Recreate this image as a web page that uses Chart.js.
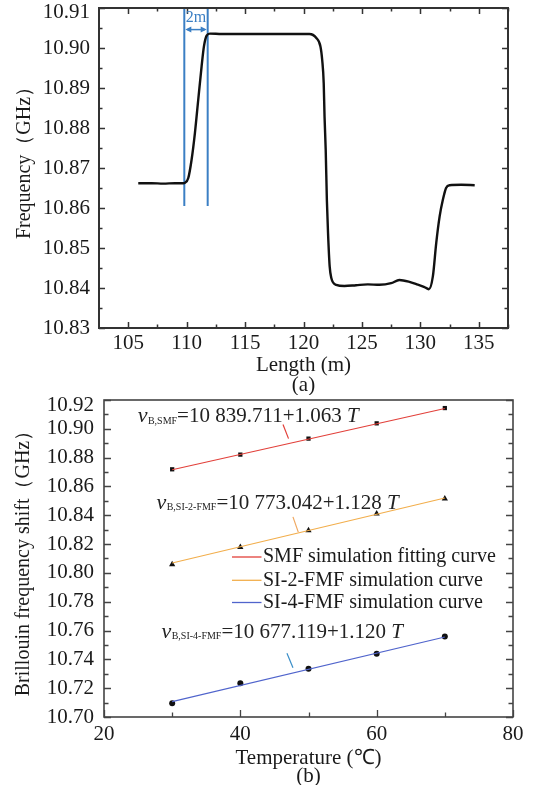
<!DOCTYPE html>
<html><head><meta charset="utf-8">
<script src="https://cdn.jsdelivr.net/npm/chart.js@4.4.1/dist/chart.umd.min.js"></script>
<style>
html,body{margin:0;padding:0;background:#fff;}
#wrap{position:relative;width:540px;height:785px;overflow:hidden;}
#ca{position:absolute;left:0;top:0;}
#cb{position:absolute;left:0;top:380px;}
</style></head><body>
<div id="wrap"><canvas id="ca" width="540" height="395"></canvas><canvas id="cb" width="540" height="405"></canvas></div>
<script>
// ---------- Chart (a) data ----------
const lengthM = [105.86, 107, 108, 109, 109.7, 109.86, 110.14, 110.42, 110.71, 110.99, 111.28, 111.48, 111.71, 111.99, 113, 115, 117, 119, 120.5, 121.1, 121.45, 121.6, 121.73, 121.8, 121.9, 122.0, 122.1, 122.24, 122.38, 122.8, 123.5, 124.5, 125.5, 126.5, 127.5, 128.2, 129.0, 129.7, 130.3, 130.73, 131.07, 131.36, 131.65, 131.93, 132.2, 132.5, 133.5, 134.65];
const freqGHz = [10.8662, 10.8662, 10.8661, 10.8662, 10.8662, 10.8663, 10.8675, 10.8720, 10.8788, 10.8870, 10.8954, 10.9004, 10.9031, 10.9036, 10.9035, 10.9035, 10.9035, 10.9035, 10.9035, 10.9025, 10.9004, 10.8970, 10.8912, 10.8829, 10.8746, 10.8620, 10.8537, 10.8454, 10.8425, 10.8408, 10.8405, 10.8407, 10.8409, 10.8408, 10.8412, 10.8420, 10.8416, 10.8409, 10.8403, 10.8397, 10.8429, 10.8513, 10.8579, 10.8621, 10.8650, 10.8657, 10.8658, 10.8657];
const markerLengths = [109.8, 111.8];
const markerFreqRange = [10.8605, 10.91];
const arrowFreq = [10.9046];
const arrowLabel = ['2m'];
const xTicksA = [105, 110, 115, 120, 125, 130, 135];
const yTicksA = [10.83, 10.84, 10.85, 10.86, 10.87, 10.88, 10.89, 10.90, 10.91];

// ---------- Chart (b) data ----------
const temps = [30, 40, 50, 60, 70];
const smfPts = [10.8719, 10.8821, 10.8932, 10.9038, 10.9144];
const si2Pts = [10.8059, 10.8179, 10.8295, 10.8411, 10.8515];
const si4Pts = [10.7096, 10.7235, 10.7335, 10.7439, 10.7559];
const fitT = [30, 70];
const smfFit = [10.8716, 10.9141];
const si2Fit = [10.8069, 10.8520];
const si4Fit = [10.7107, 10.7555];
const seriesNames = ['SMF simulation fitting curve', 'SI-2-FMF simulation curve', 'SI-4-FMF simulation curve'];
const eqSubs = ['B,SMF', 'B,SI-2-FMF', 'B,SI-4-FMF'];
const eqMains = ['=10 839.711+1.063 ', '=10 773.042+1.128 ', '=10 677.119+1.120 '];
const xTicksB = [20, 40, 60, 80];
const yTicksB = [10.70, 10.72, 10.74, 10.76, 10.78, 10.80, 10.82, 10.84, 10.86, 10.88, 10.90, 10.92];

const SERIF = "'Liberation Serif', 'Times New Roman', serif";
Chart.defaults.font.family = SERIF;
Chart.defaults.color = '#1a1a1a';
const F = (size, lh) => ({ family: SERIF, size: size, lineHeight: lh });

function range(a, b, step) { const r = []; for (let v = a; v <= b + step / 1000; v += step) r.push(+v.toFixed(6)); return r; }

// frame + inward ticks plugin
const frameTicks = {
  id: 'frameTicks',
  afterDatasetsDraw(chart, args, o) {
    const { ctx, chartArea: { left, right, top, bottom }, scales: { x, y } } = chart;
    ctx.save();
    ctx.strokeStyle = o.color;
    ctx.beginPath();
    const drawX = (vals, len) => vals.forEach(v => {
      const px = Math.round(x.getPixelForValue(v)) + 0.5;
      if (o.sides.includes('b')) { ctx.moveTo(px, bottom); ctx.lineTo(px, bottom - len); }
      if (o.sides.includes('t')) { ctx.moveTo(px, top); ctx.lineTo(px, top + len); }
    });
    const drawY = (vals, len) => vals.forEach(v => {
      const py = Math.round(y.getPixelForValue(v)) + 0.5;
      if (o.sides.includes('l')) { ctx.moveTo(left, py); ctx.lineTo(left + len, py); }
      if (o.sides.includes('r')) { ctx.moveTo(right, py); ctx.lineTo(right - len, py); }
    });
    ctx.lineWidth = o.tickWidth;
    drawX(o.xMajor, o.majorLen); drawX(o.xMinor, o.minorLen);
    drawY(o.yMajor, o.majorLen); drawY(o.yMinor, o.minorLen);
    ctx.stroke();
    ctx.lineWidth = o.width;
    ctx.strokeRect(left, top, right - left, bottom - top);
    ctx.restore();
  }
};

// ---------- Chart (a) ----------
const arrowPlugin = {
  id: 'arrowA',
  afterDatasetsDraw(chart) {
    const { ctx, scales: { x, y } } = chart;
    const x1 = x.getPixelForValue(markerLengths[0]) + 1, x2 = x.getPixelForValue(markerLengths[1]) - 1;
    const py = y.getPixelForValue(arrowFreq[0]);
    ctx.save();
    ctx.strokeStyle = '#3b7fc4'; ctx.fillStyle = '#3b7fc4'; ctx.lineWidth = 1.5;
    ctx.beginPath(); ctx.moveTo(x1 + 2, py); ctx.lineTo(x2 - 2, py); ctx.stroke();
    ctx.beginPath(); ctx.moveTo(x1, py); ctx.lineTo(x1 + 6, py - 3); ctx.lineTo(x1 + 6, py + 3); ctx.closePath(); ctx.fill();
    ctx.beginPath(); ctx.moveTo(x2, py); ctx.lineTo(x2 - 6, py - 3); ctx.lineTo(x2 - 6, py + 3); ctx.closePath(); ctx.fill();
    ctx.font = '16px ' + SERIF; ctx.textAlign = 'center'; ctx.textBaseline = 'middle';
    ctx.fillText(arrowLabel[0], (x1 + x2) / 2, py - 12);
    ctx.restore();
  }
};

// top tick label pushed slightly down (two-line label with empty first line)
const yLabel = (top) => (v) => (Math.abs(v - top) < 1e-9 ? ['', v.toFixed(2)] : v.toFixed(2));

new Chart(document.getElementById('ca'), {
  type: 'line',
  data: {
    datasets: [
      { data: lengthM.map((v, i) => ({ x: v, y: freqGHz[i] })), borderColor: '#111', borderWidth: 2.4, pointRadius: 0, cubicInterpolationMode: 'monotone' },
      { data: markerFreqRange.map(f => ({ x: markerLengths[0], y: f })), borderColor: '#3b7fc4', borderWidth: 2, pointRadius: 0 },
      { data: markerFreqRange.map(f => ({ x: markerLengths[1], y: f })), borderColor: '#3b7fc4', borderWidth: 2, pointRadius: 0 }
    ]
  },
  options: {
    responsive: false, animation: false, devicePixelRatio: 1,
    layout: { padding: { top: 8, right: 32, left: 0, bottom: 0 } },
    plugins: {
      legend: { display: false }, tooltip: { enabled: false },
      frameTicks: { color: '#333', width: 2, tickWidth: 1.5, majorLen: 6, minorLen: 3.5, sides: 'btlr',
        xMajor: xTicksA, xMinor: range(107.5, 137.5, 5), yMajor: yTicksA, yMinor: range(10.835, 10.905, 0.01) }
    },
    scales: {
      x: {
        type: 'linear', min: 102.5, max: 137.5,
        afterBuildTicks: s => { s.ticks = xTicksA.map(v => ({ value: v })); },
        afterFit: s => { s.height = 67; s.paddingLeft = 0; s.paddingRight = 0; },
        grid: { display: false, drawTicks: false }, border: { display: false },
        ticks: { font: F(21, 1), padding: 5, maxRotation: 0, callback: v => String(v) },
        title: { display: true, text: ['Length (m)', '(a)'], font: F(21, '20px'), padding: 0 }
      },
      y: {
        type: 'linear', min: 10.83, max: 10.91,
        afterBuildTicks: s => { s.ticks = yTicksA.map(v => ({ value: v })); },
        afterFit: s => { s.width = 99; s.paddingTop = 0; s.paddingBottom = 0; },
        grid: { display: false, drawTicks: false }, border: { display: false },
        ticks: { font: F(21, '9px'), padding: 9, callback: yLabel(10.91) },
        title: { display: true, text: '\u2003Frequency（GHz）', font: F(20, 1), padding: { top: 15, bottom: 0 } }
      }
    }
  },
  plugins: [frameTicks, arrowPlugin]
});

// ---------- Chart (b) ----------
const eqAnchors = [[24.94, 10.9047], [27.69, 10.8445], [28.42, 10.7550]];
const pointerSegs = [[[46.26, 10.9030], [47.07, 10.8932]], [[47.72, 10.8389], [48.5, 10.8283]], [[46.84, 10.7443], [47.72, 10.7342]]];
const pointerColors = ['#e2403a', '#f0a860', '#3a8ec8'];

const annotB = {
  id: 'annotB',
  afterDatasetsDraw(chart) {
    const { ctx, chartArea, scales: { x, y } } = chart;
    ctx.save();
    eqAnchors.forEach((a, i) => {
      let px = x.getPixelForValue(a[0]);
      const py = y.getPixelForValue(a[1]);
      ctx.fillStyle = '#222'; ctx.textAlign = 'left'; ctx.textBaseline = 'alphabetic';
      ctx.font = 'italic 22px ' + SERIF; ctx.fillText('v', px, py); px += ctx.measureText('v').width + 0.5;
      ctx.font = '10px ' + SERIF; ctx.fillText(eqSubs[i], px, py + 1.5); px += ctx.measureText(eqSubs[i]).width;
      ctx.font = '21px ' + SERIF; ctx.fillText(eqMains[i], px, py); px += ctx.measureText(eqMains[i]).width;
      ctx.font = 'italic 21px ' + SERIF; ctx.fillText('T', px, py);
    });
    pointerSegs.forEach((s, i) => {
      ctx.strokeStyle = pointerColors[i]; ctx.lineWidth = 1.2;
      ctx.beginPath();
      ctx.moveTo(x.getPixelForValue(s[0][0]), y.getPixelForValue(s[0][1]));
      ctx.lineTo(x.getPixelForValue(s[1][0]), y.getPixelForValue(s[1][1]));
      ctx.stroke();
    });
    const lx = chartArea.left + 128, rows = [157, 180.3, 202.5];
    chart.data.datasets.slice(0, 3).forEach((ds, i) => {
      const ly = chartArea.top + rows[i];
      ctx.strokeStyle = ds.borderColor; ctx.lineWidth = 1.3;
      ctx.beginPath(); ctx.moveTo(lx, ly); ctx.lineTo(lx + 29.5, ly); ctx.stroke();
      ctx.fillStyle = '#1a1a1a'; ctx.font = '20px ' + SERIF; ctx.textBaseline = 'middle'; ctx.textAlign = 'left';
      ctx.fillText(ds.label, lx + 31, ly);
    });
    ctx.restore();
  }
};

const pts = arr => temps.map((t, i) => ({ x: t, y: arr[i] }));
const fit = arr => fitT.map((t, i) => ({ x: t, y: arr[i] }));

new Chart(document.getElementById('cb'), {
  type: 'line',
  data: {
    datasets: [
      { label: seriesNames[0], data: fit(smfFit), borderColor: '#e2403a', borderWidth: 1.2, pointRadius: 0 },
      { label: seriesNames[1], data: fit(si2Fit), borderColor: '#f2ae4c', borderWidth: 1.2, pointRadius: 0 },
      { label: seriesNames[2], data: fit(si4Fit), borderColor: '#5064cc', borderWidth: 1.2, pointRadius: 0 },
      { type: 'scatter', data: pts(smfPts), pointStyle: 'rect', pointRadius: 3, backgroundColor: '#111', borderColor: '#111', borderWidth: 0 },
      { type: 'scatter', data: pts(si2Pts), pointStyle: 'triangle', pointRadius: 3.6, backgroundColor: '#111', borderColor: '#111', borderWidth: 0 },
      { type: 'scatter', data: pts(si4Pts), pointStyle: 'circle', pointRadius: 3, backgroundColor: '#111', borderColor: '#111', borderWidth: 0 }
    ]
  },
  options: {
    responsive: false, animation: false, devicePixelRatio: 1,
    layout: { padding: { top: 20, right: 27, left: 0, bottom: 0 } },
    plugins: {
      legend: { display: false }, tooltip: { enabled: false },
      frameTicks: { color: '#444', width: 1.6, tickWidth: 1.3, majorLen: 7, minorLen: 4.5, sides: 'blr',
        xMajor: range(20, 80, 20), xMinor: range(30, 70, 20), yMajor: yTicksB, yMinor: range(10.71, 10.91, 0.02) }
    },
    scales: {
      x: {
        type: 'linear', min: 20, max: 80,
        afterBuildTicks: s => { s.ticks = xTicksB.map(v => ({ value: v })); },
        afterFit: s => { s.height = 68; s.paddingLeft = 0; s.paddingRight = 0; },
        grid: { display: false, drawTicks: false }, border: { display: false },
        ticks: { font: F(21, 1), padding: 7, maxRotation: 0, callback: v => String(v) },
        title: { display: true, text: ['Temperature (℃)', '(b)'], font: F(21, '18px'), padding: 0 }
      },
      y: {
        type: 'linear', min: 10.70, max: 10.92,
        afterBuildTicks: s => { s.ticks = yTicksB.map(v => ({ value: v })); },
        afterFit: s => { s.width = 104; s.paddingTop = 0; s.paddingBottom = 0; },
        grid: { display: false, drawTicks: false }, border: { display: false },
        ticks: { font: F(21, '10px'), padding: 10, callback: yLabel(10.92) },
        title: { display: true, text: 'Brillouin frequency shift（GHz）', font: F(20, 1), padding: { top: 14, bottom: 0 } }
      }
    }
  },
  plugins: [frameTicks, annotB]
});
</script>
</body></html>
